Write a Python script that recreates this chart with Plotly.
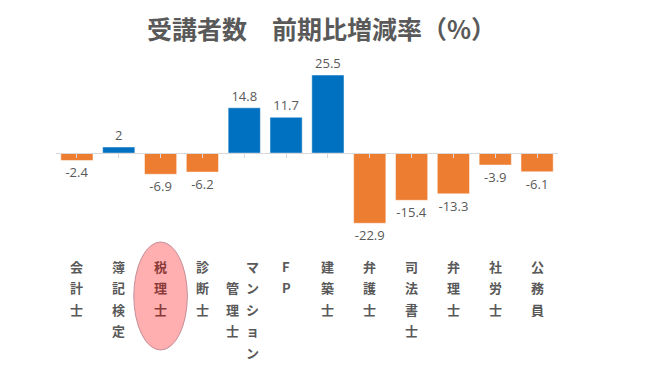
import plotly.graph_objects as go

# ---- data ----
categories = ["会計士", "簿記検定", "税理士", "診断士", "マンション管理士", "FP",
              "建築士", "弁護士", "司法書士", "弁理士", "社労士", "公務員"]
values = [-2.4, 2, -6.9, -6.2, 14.8, 11.7, 25.5, -22.9, -15.4, -13.3, -3.9, -6.1]
highlight = "税理士"
title_text = "受講者数　前期比増減率（%）"

BLUE = "#0070C0"
ORANGE = "#ED7D31"
GRAY = "#595959"
FONT = "Noto Sans CJK JP"
NUMFONT = "Open Sans"

W, H = 650, 366
ml, mr, mt, mb = 56, 92, 60, 121
ymin, ymax = -30, 30.4
plot_h = H - mt - mb

colors = [BLUE if v >= 0 else ORANGE for v in values]
x_idx = list(range(len(categories)))

fig = go.Figure()
fig.add_trace(go.Bar(
    x=x_idx, y=values,
    marker=dict(color=colors, line=dict(color="white", width=0.5)),
    width=0.77,
    text=[("%g" % v) for v in values],
    textposition="outside",
    textfont=dict(family=NUMFONT, size=13, color=GRAY),
    cliponaxis=False,
    hoverinfo="skip",
))

annotations = []
row_h = 21.5
first_row = 266 - (H - mb)  # pixels below plot bottom


def ya(py):
    return ((H - mb) - py) / plot_h


def add_col(xc, text, xshift, start_row, color, weight):
    for r, ch in enumerate(text):
        annotations.append(dict(
            x=xc, y=0, xref="x", yref="paper",
            text=ch, showarrow=False,
            xanchor="center", yanchor="middle",
            xshift=xshift,
            yshift=-(first_row + (start_row + r) * row_h),
            font=dict(family=FONT, size=13, color=color, weight=weight),
        ))


for i, cat in enumerate(categories):
    col = "#8B3A3A" if cat == highlight else GRAY
    if cat == "マンション管理士":
        add_col(i, "マンション", 8, 0, col, 700)
        add_col(i, "管理士", -12, 1, col, 700)
    else:
        add_col(i, cat, 0, 0, col, 700)

annotations.append(dict(
    x=0.5, y=ya(28), xref="paper", yref="paper", yanchor="middle",
    xshift=14,
    text="<b>" + title_text + "</b>", showarrow=False,
    font=dict(family=FONT, size=25, color=GRAY),
))

# ellipse around highlighted category
hi = categories.index(highlight)
py_top, py_bot = 242, 350
shapes = [dict(
    type="circle", xref="x", yref="paper",
    x0=hi - 0.64, x1=hi + 0.64, y0=ya(py_bot), y1=ya(py_top),
    fillcolor="#FFAFAF", line=dict(color="#C58E99", width=1),
    layer="below",
)]

zero_pos = (0 - ymin) / (ymax - ymin)

fig.update_layout(
    width=W, height=H,
    margin=dict(l=ml, r=mr, t=mt, b=mb),
    paper_bgcolor="white", plot_bgcolor="white",
    showlegend=False,
    bargap=0.23,
    annotations=annotations,
    shapes=shapes,
    xaxis=dict(
        range=[-0.5, len(categories) - 0.5],
        anchor="free", position=zero_pos,
        showline=True, linecolor="#D9D9D9", linewidth=1,
        ticks="outside", tickson="boundaries", ticklen=4, tickcolor="#D9D9D9",
        showticklabels=False, showgrid=False, zeroline=False,
        tickvals=x_idx,
    ),
    yaxis=dict(range=[ymin, ymax], visible=False, showgrid=False, zeroline=False),
)

fig.write_html(
    "out.html",
    config={"displayModeBar": False},
    post_script="document.body.style.margin='0';document.body.style.overflow='hidden';",
)
